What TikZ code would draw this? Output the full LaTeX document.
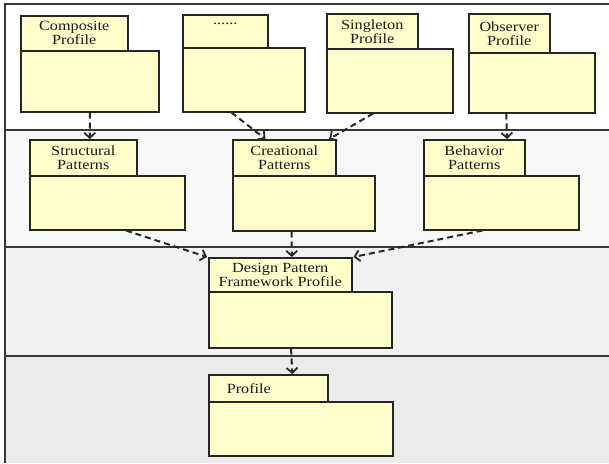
\documentclass[tikz,border=0pt]{standalone}
\usepackage{fontspec}
\setmainfont[FakeStretch=1.16]{Liberation Serif}
\usetikzlibrary{arrows.meta,calc}

\definecolor{pkgyellow}{RGB}{255,255,204}
\definecolor{laneA}{RGB}{255,255,255}
\definecolor{laneB}{RGB}{247,247,247}
\definecolor{laneC}{RGB}{242,242,242}
\definecolor{laneD}{RGB}{235,235,235}
\definecolor{laneline}{RGB}{55,55,55}

\tikzset{
  pkgtab/.style={draw=black!85, fill=pkgyellow, line width=1.5pt, anchor=north west,
    inner sep=0pt, align=center, text=black!90, font=\fontsize{14}{14}\selectfont},
  pkgbody/.style={draw=black!85, fill=pkgyellow, line width=1.5pt, anchor=north west, inner sep=0pt},
  dep/.style={draw=black!85, line width=2pt, dash pattern=on 6pt off 4pt,
    -{Straight Barb[length=5pt,width=11pt,line width=1.8pt]}}
}

\begin{document}
\begin{tikzpicture}[x=1pt,y=-1pt]
            \useasboundingbox (0,0) rectangle (609,463);
            % swim lanes
            \fill[laneA] (5,4) rectangle (609,130);
            \fill[laneB] (5,130) rectangle (609,247);
            \fill[laneC] (5,247) rectangle (609,356);
            \fill[laneD] (5,356) rectangle (609,463);
            \draw[laneline, line width=1.6pt] (5,463) -- (5,4) -- (609,4);
            \draw[laneline, line width=1.6pt] (5,130) -- (609,130);
            \draw[laneline, line width=1.6pt] (5,247) -- (609,247);
            \draw[laneline, line width=1.6pt] (5,356) -- (609,356);

            % profiles
            \node[pkgtab, minimum width=107pt, minimum height=35pt] (comp) at (20,15) {Composite\\Profile};
            \node[pkgbody, minimum width=138pt, minimum height=61pt] (compb) at (20,50) {};
            \node[pkgtab, minimum width=85pt, minimum height=33pt] (dots) at (182,14) {......\\\mbox{}};
            \node[pkgbody, minimum width=122pt, minimum height=64pt] (dotsb) at (182,47) {};
            \node[pkgtab, minimum width=91pt, minimum height=35pt] (sing) at (326,13) {Singleton\\Profile};
            \node[pkgbody, minimum width=126pt, minimum height=64pt] (singb) at (326,48) {};
            \node[pkgtab, minimum width=81pt, minimum height=39pt] (obs) at (468,13) {Observer\\Profile};
            \node[pkgbody, minimum width=126pt, minimum height=60pt] (obsb) at (468,52) {};

            % pattern groups
            \node[pkgtab, minimum width=107pt, minimum height=36pt] (struct) at (29,139) {Structural\\Patterns};
            \node[pkgbody, minimum width=155pt, minimum height=54pt] (structb) at (29,175) {};
            \node[pkgtab, minimum width=103pt, minimum height=36pt] (creat) at (232,139) {Creational\\Patterns};
            \node[pkgbody, minimum width=142pt, minimum height=55pt] (creatb) at (232,175) {};
            \node[pkgtab, minimum width=101pt, minimum height=36pt] (behav) at (423,139) {Behavior\\Patterns};
            \node[pkgbody, minimum width=155pt, minimum height=54pt] (behavb) at (423,175) {};

            % framework and base profile
            \node[pkgtab, minimum width=143pt, minimum height=34pt] (dpf) at (208,257) {Design Pattern\\Framework Profile};
            \node[pkgbody, minimum width=183pt, minimum height=56pt] (dpfb) at (208,291) {};
            \node[pkgtab, minimum height=27pt, text width=83pt, inner xsep=18pt, align=left] (prof) at (208,374) {Profile};
            \node[pkgbody, minimum width=184pt, minimum height=54pt] (profb) at (208,401) {};

            % dependencies
            \draw[dep] ($(compb.south west)!0.5!(compb.south east)$) to ($(struct.north west)!0.56!(struct.north east)$);
            \draw[dep] ($(dotsb.south west)!0.4!(dotsb.south east)$) to ($(creat.north west)!0.32!(creat.north east)$);
            \draw[dep] ($(singb.south west)!0.37!(singb.south east)$) to ($(creat.north west)!0.93!(creat.north east)$);
            \draw[dep] ($(obsb.south west)!0.3!(obsb.south east)$) to ($(behav.north west)!0.82!(behav.north east)$);

            \draw[dep] ($(structb.south west)!0.62!(structb.south east)$) to ($(dpf.north west)+(-1,0)$);
            \draw[dep] ($(creatb.south west)!0.415!(creatb.south east)$) to ($(dpf.north west)!0.58!(dpf.north east)$);
            \draw[dep] ($(behavb.south west)!0.38!(behavb.south east)$) to ($(dpf.north east)+(1,0)$);

            \draw[dep] ($(dpfb.south west)!0.45!(dpfb.south east)$) to ($(prof.north west)!0.7!(prof.north east)$);
          \end{tikzpicture}
\end{document}
